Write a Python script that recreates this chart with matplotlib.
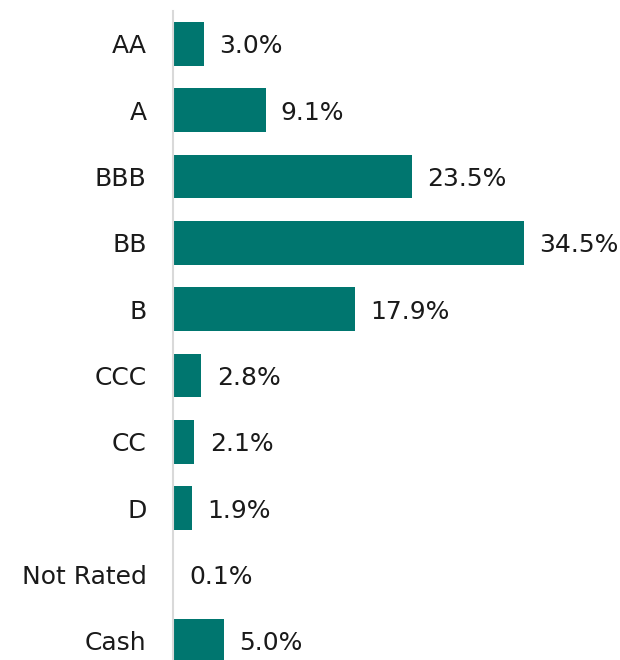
import matplotlib as mpl
mpl.use('Agg')
from matplotlib import pyplot as plt

ratings = ['AA', 'A', 'BBB', 'BB', 'B', 'CCC', 'CC', 'D', 'Not Rated', 'Cash']
weights = [3.0, 9.1, 23.5, 34.5, 17.9, 2.8, 2.1, 1.9, 0.1, 5.0]

bar_color = '#00766F'
text_color = '#1a1a1a'
plt.rcParams['font.family'] = ['DejaVu Sans']

W, H = 620, 660
fig = plt.figure(figsize=(W/100, H/100), dpi=100)
# axes placed in pixel terms: left edge at x=173, top at y=10.8, bottom below figure
left, right = 173, 600
top, bottom = 10.8, 674.0
ax = fig.add_axes([left/W, (H-bottom)/H, (right-left)/W, (bottom-top)/H])

px_per_pct = (524-173)/34.5
ax.set_xlim(0, (right-left)/px_per_pct)
ax.set_ylim(len(ratings)-0.5, -0.5)

ypos = list(range(len(ratings)))
ax.barh(ypos, weights, height=0.66, color=bar_color, zorder=2)

for y, w in zip(ypos, weights):
    ax.annotate(f'{w:.1f}%', xy=(w, y), xytext=(11, 0), textcoords='offset points',
                ha='left', va='center_baseline', fontsize=18, color=text_color)

ax.set_yticks(ypos)
ax.set_yticklabels(ratings, fontsize=18, color=text_color, va='center_baseline')
ax.tick_params(axis='y', length=0, pad=19)
ax.set_xticks([])
for s in ['top', 'right', 'bottom']:
    ax.spines[s].set_visible(False)
ax.spines['left'].set_color('#d9d9d9')
ax.spines['left'].set_linewidth(1.5)
ax.patch.set_visible(False)

fig.savefig('out.png', dpi=100)
plt.close()
